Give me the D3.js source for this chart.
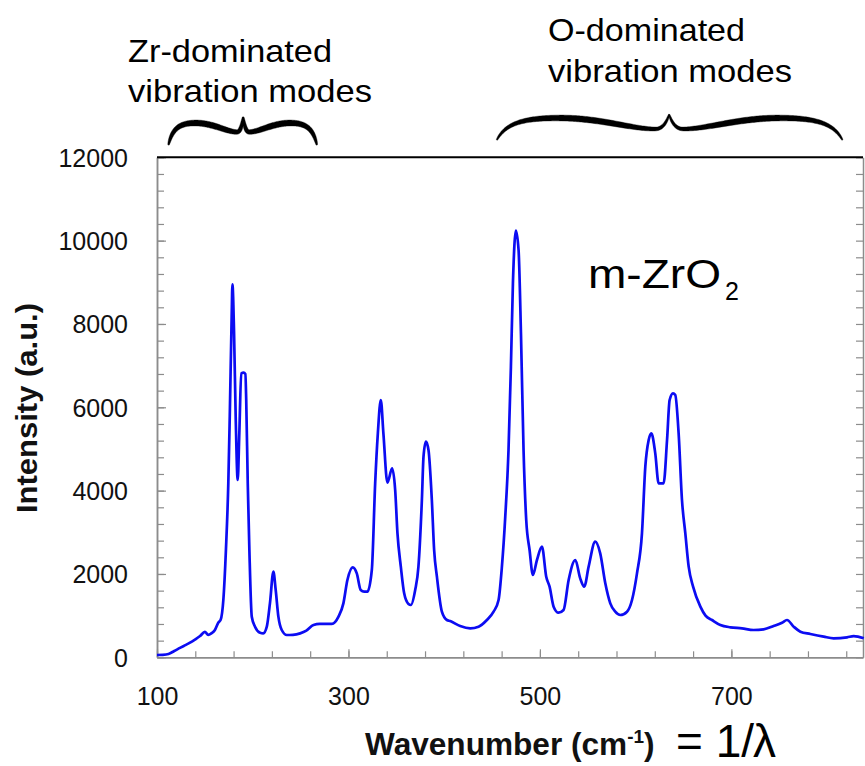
<!DOCTYPE html>
<html>
<head>
<meta charset="utf-8">
<script src="https://cdn.jsdelivr.net/npm/d3@7"></script>
<style>
  html, body { margin: 0; padding: 0; background: #fff; }
  svg { display: block; }
  text { font-family: "Liberation Sans", Arial, sans-serif; }
</style>
</head>
<body>
<svg id="chart" width="865" height="766"></svg>
<script>
// ---------------- data ----------------
const wavenumber = [100,106,112,118,124,129,134,140,145,150,153.5,157,160.5,164,166.5,169.3,172,174.5,176,178,178.8,180.5,182.2,184.3,186,188,190.5,192.3,193.2,194.8,196.5,199,202.4,207.7,211,214.7,218,221.6,224,226.8,230.3,235.6,242,249.5,256,263.5,270,282.6,289.6,294.7,298.9,304.5,308.7,312.8,316.4,319.8,324.4,327.9,330.7,333.8,336.5,340.7,345.6,348.8,351.2,354.7,358.2,362.7,365.2,369.7,373.1,376.7,378.4,380.9,383.6,387.1,389.5,392.4,397.6,402.8,406.3,416.7,427.2,435.9,444.6,451.6,456.8,460.3,463.8,467.2,469.7,471.8,474.9,477.7,480.2,482.9,485.7,489.2,492.7,496.9,502.1,506.6,510.1,514.3,519.5,524.7,530,537,542.1,546.3,550.9,557.8,563,568.3,573.5,578.7,584,591,596.2,601.4,606.6,610.1,613.6,616.4,620.5,624,629.2,632.8,635.5,639,641.4,644.9,648.4,651.9,655.4,660,667.6,673,679.8,688.5,699,711,723.2,733.7,744.1,752.9,758.1,765.1,772.1,782.5,796.4,806.8,820.9,827.8,838.3];
const intensity = [55,60,80,150,225,285,345,430,510,610,540,580,655,830,900,1375,2575,4180,5775,8175,8950,7780,5775,4255,5380,6815,6830,6800,6175,4180,2575,975,735,590,575,735,1300,2055,1615,975,655,535,540,575,640,775,800,800,975,1295,1855,2160,2015,1615,1575,1575,2095,4175,5375,6175,5375,4190,4535,4015,2975,2175,1535,1280,1255,1615,2175,3775,4815,5175,4975,3775,2575,1935,1095,895,870,750,695,735,895,1095,1375,2175,3375,4975,6975,8975,10240,9775,7775,4975,3295,2575,1975,2335,2655,1935,1695,1215,1070,1135,1855,2335,1895,1695,2175,2775,2495,1775,1295,1095,1015,1095,1375,2015,2975,4575,5215,5375,4895,4175,4175,5215,6175,6335,6295,5375,3775,2975,2175,1695,1215,1000,895,775,720,695,655,670,750,830,895,735,615,560,495,455,480,510,455];

const yTickLabels = [0, 2000, 4000, 6000, 8000, 10000, 12000];
const xTickLabels = [100, 300, 500, 700];
const yMinorStep = 400;
const xMinorStep = 40;

const chartLabel = "m-ZrO";
const chartLabelSub = "2";
const yTitle = "Intensity (a.u.)";
const xTitleMain = "Wavenumber (cm";
const xTitleSup = "-1";
const xTitleEnd = ")";

const groupLabels = [
  { lines: ["Zr-dominated", "vibration modes"], from: 112, to: 267, tip: 190 },
  { lines: ["O-dominated", "vibration modes"], from: 455, to: 816, tip: 635 }
];

// ---------------- layout ----------------
const svg = d3.select("#chart");
svg.append("rect").attr("width", 865).attr("height", 766).attr("fill", "#fff");

const L = 157, R = 863, T = 157.3, B = 657.3;
const x = d3.scaleLinear().domain([100, 837.5]).range([L, R]);
const y = d3.scaleLinear().domain([0, 12000]).range([B, T]);

const axisGrey = "#8c8c8c";

const yMinor = d3.range(0, 12000 + 1, yMinorStep);
const xMinor = d3.range(100, 837, xMinorStep);

svg.append("g").attr("transform", `translate(${L},0)`)
  .call(d3.axisLeft(y).tickValues(yMinor).tickSizeInner(-7).tickSizeOuter(0).tickFormat(""));
const gy = svg.append("g").attr("transform", `translate(${L},0)`)
  .call(d3.axisLeft(y).tickValues(yTickLabels).tickSizeInner(-9).tickSizeOuter(0).tickPadding(29)
    .tickFormat(d3.format("d")));
gy.selectAll("text").attr("font-size", 25).attr("fill", "#111").attr("font-family", '"Liberation Sans", Arial, sans-serif').attr("dy", "0.36em");

svg.append("g").attr("transform", `translate(${R},0)`)
  .call(d3.axisRight(y).tickValues(yMinor).tickSizeInner(-7).tickSizeOuter(0).tickFormat(""));

svg.append("g").attr("transform", `translate(0,${B})`)
  .call(d3.axisBottom(x).tickValues(xMinor).tickSizeInner(-6).tickSizeOuter(0).tickFormat(""));
const gx = svg.append("g").attr("transform", `translate(0,${B})`)
  .call(d3.axisBottom(x).tickValues(xTickLabels).tickSizeInner(-8).tickSizeOuter(0).tickPadding(30)
    .tickFormat(d3.format("d")));
gx.selectAll("text").attr("font-size", 25).attr("fill", "#111").attr("font-family", '"Liberation Sans", Arial, sans-serif');

svg.selectAll(".domain").attr("stroke", axisGrey).attr("stroke-width", 1.5);
svg.selectAll(".tick line").attr("stroke", axisGrey).attr("stroke-width", 1.2);

svg.append("line").attr("x1", L).attr("x2", R).attr("y1", T).attr("y2", T)
  .attr("stroke", "#000").attr("stroke-width", 2);

// ---------------- spectrum ----------------
const pts = wavenumber.map((w, i) => [w, intensity[i]]);
const line = d3.line().x(d => x(d[0])).y(d => y(d[1])).curve(d3.curveMonotoneX);
svg.append("path").datum(pts).attr("d", line)
  .attr("fill", "none").attr("stroke", "#0c0cf2").attr("stroke-width", 2.7)
  .attr("stroke-linejoin", "round");

// ---------------- chart label ----------------
svg.append("text").attr("x", 588).attr("y", 288).attr("font-size", 40)
  .attr("textLength", 133).attr("lengthAdjust", "spacingAndGlyphs")
  .attr("fill", "#000").text(chartLabel);
svg.append("text").attr("x", 725).attr("y", 300).attr("font-size", 25)
  .attr("fill", "#000").text(chartLabelSub);

// ---------------- axis titles ----------------
svg.append("text")
  .attr("transform", "translate(37,408) rotate(-90)")
  .attr("text-anchor", "middle").attr("font-size", 30).attr("font-weight", "bold")
  .attr("textLength", 210).attr("lengthAdjust", "spacingAndGlyphs")
  .attr("fill", "#111").text(yTitle);

const xt = svg.append("text").attr("x", 365).attr("y", 755)
  .attr("font-size", 31.6).attr("font-weight", "bold").attr("fill", "#111");
xt.append("tspan").text(xTitleMain);
xt.append("tspan").attr("font-size", 19).attr("dy", -12).text(xTitleSup);
xt.append("tspan").attr("dy", 12).text(xTitleEnd);

svg.append("text").attr("x", 676).attr("y", 757).attr("font-size", 46)
  .attr("fill", "#000").text("= 1/");
svg.append("text").attr("x", 753).attr("y", 757).attr("font-size", 46)
  .attr("font-family", '"Liberation Serif", "Times New Roman", serif')
  .attr("fill", "#000").text("λ");

// ---------------- group annotations (text + curly braces) ----------------
const annoText = [
  { x: 128, y1: 62, y2: 101.7, w1: 204, w2: 244 },
  { x: 548, y1: 41, y2: 82, w1: 197, w2: 244 }
];
const braceGeom = [
  { yEnd: 145, yBody: 123, yBase: 132, yTip: 117 },
  { yEnd: 140, yBody: 118, yBase: 129, yTip: 114.5 }
];

function braceHalfPath(x0, xm, g) {
  const Lh = xm - x0;
  return `M${x0},${g.yEnd}` +
    ` C${x0 + 0.05 * Lh},${g.yEnd - 0.75 * (g.yEnd - g.yBody)} ${x0 + 0.15 * Lh},${g.yBody} ${x0 + 0.36 * Lh},${g.yBody}` +
    ` C${x0 + 0.6 * Lh},${g.yBody} ${x0 + 0.78 * Lh},${g.yBase} ${x0 + 0.92 * Lh},${g.yBase}` +
    ` C${x0 + 0.97 * Lh},${g.yBase} ${xm - 0.01 * Lh},${g.yTip + 5} ${xm},${g.yTip}`;
}

function drawBraceHalf(x0, xm, g) {
  const tmp = svg.append("path").attr("d", braceHalfPath(x0, xm, g)).attr("fill", "none");
  const node = tmp.node();
  const len = node.getTotalLength();
  const N = 120;
  const left = [], right = [];
  for (let i = 0; i <= N; i++) {
    const s = len * i / N;
    const p = node.getPointAtLength(s);
    const p2 = node.getPointAtLength(Math.min(len, s + 0.5));
    const p1 = node.getPointAtLength(Math.max(0, s - 0.5));
    let dx = p2.x - p1.x, dy = p2.y - p1.y;
    const m = Math.hypot(dx, dy) || 1;
    dx /= m; dy /= m;
    const u = i / N;
    const w = 0.6 + 2.4 * Math.pow(Math.sin(Math.PI * u), 0.6);
    left.push([p.x - dy * w, p.y + dx * w]);
    right.push([p.x + dy * w, p.y - dx * w]);
  }
  tmp.remove();
  const poly = left.concat(right.reverse());
  svg.append("path").attr("d", "M" + poly.map(q => q.join(",")).join("L") + "Z")
    .attr("fill", "#000").attr("stroke", "#000").attr("stroke-width", 0.4);
}

groupLabels.forEach((gl, i) => {
  const t = annoText[i];
  svg.append("text").attr("x", t.x).attr("y", t.y1).attr("font-size", 32)
    .attr("textLength", t.w1).attr("lengthAdjust", "spacingAndGlyphs")
    .attr("fill", "#000").text(gl.lines[0]);
  svg.append("text").attr("x", t.x).attr("y", t.y2).attr("font-size", 32)
    .attr("textLength", t.w2).attr("lengthAdjust", "spacingAndGlyphs")
    .attr("fill", "#000").text(gl.lines[1]);
  const g = braceGeom[i];
  drawBraceHalf(x(gl.from), x(gl.tip), g);
  drawBraceHalf(x(gl.to), x(gl.tip), g);
});
</script>
</body>
</html>
